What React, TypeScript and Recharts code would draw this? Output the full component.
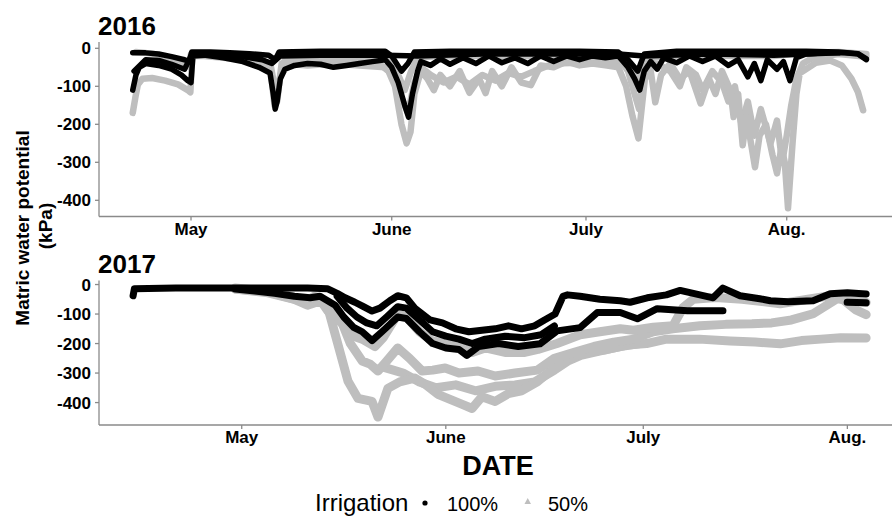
import React from 'react';
import { LineChart, Line, XAxis, YAxis } from 'recharts';

const FONT = '"Liberation Sans", Arial, Helvetica, sans-serif';
const BLACK = '#000000';
const GREY = '#bebebe';
const AXIS = '#8a8a8a';

// x = days relative to May 1, y = matric water potential (kPa)
const monthTicks = [0, 31, 61, 92];
const monthLabels = ['May', 'June', 'July', 'Aug.'];
const yTicks = [0, -100, -200, -300, -400];

// ---------- 2016 ----------
const g16a: [number, number][] = [[-8.5,-10],[-6,-14],[-4,-22],[-2,-35],[-0.4,-48],[0,-15],[3,-14],[6,-18],[9,-24],[11,-32],[12.3,-45],[12.9,-100],[13.3,-140],[13.8,-70],[14.5,-30],[17,-22],[21,-26],[25,-28],[29,-22],[30.8,-35],[32,-70],[33,-110],[34,-60],[35,-25],[38,-20],[42,-22],[46,-18],[50,-22],[55,-18],[60,-20],[66,-18],[67.5,-40],[69,-80],[70,-30],[73,-20],[78,-18],[84,-20],[90,-20],[95,-12],[100,-10],[104.3,-15]];
const g16b: [number, number][] = [[-9,-170],[-8.6,-130],[-8.2,-95],[-7.5,-80],[-6,-78],[-4,-85],[-2,-95],[-0.5,-110],[-0.1,-116],[0.2,-20],[2,-20],[5,-25],[8,-30],[11,-40],[12.3,-60],[12.9,-150],[13.4,-120],[14,-40],[16,-32],[20,-30],[24,-38],[27,-35],[29,-40],[30.5,-60],[31.5,-100],[32.5,-200],[33.3,-250],[33.9,-220],[34.5,-120],[35.5,-60],[36.5,-80],[37.5,-110],[38.5,-70],[40,-100],[41.5,-60],[43,-117],[44.5,-80],[45.5,-118],[46.5,-60],[48,-100],[49.5,-50],[51,-90],[52.5,-97],[54,-45],[56,-50],[58,-35],[60,-45],[62,-40],[64,-45],[66,-50],[67.2,-100],[68.2,-180],[69.1,-237],[70.1,-80],[71,-60],[71.7,-142],[72.6,-70],[74,-40],[75.5,-80],[77,-60],[78.7,-145],[80,-80],[81,-120],[82,-60],[83.3,-110],[83.8,-181],[84.5,-120],[85.2,-255],[85.8,-180],[87.1,-313],[87.8,-230],[88.8,-200],[89.8,-280],[90.5,-329],[91.2,-260],[91.7,-300],[92.2,-421],[92.9,-250],[93.5,-120],[94,-66],[96.5,-38],[98.7,-32],[100.5,-45],[102,-80],[103,-115],[103.8,-163]];
const g16c: [number, number][] = [[66,-25],[67.5,-60],[68.5,-120],[69.2,-160],[70,-60],[72,-40],[74,-60],[75.5,-100],[76.5,-50],[78,-70],[79,-110],[80.5,-60],[82,-90],[83,-140],[84,-100],[85,-200],[86,-140],[87,-230],[88,-160],[89.5,-250],[90.5,-190],[91.3,-300],[92,-230],[92.7,-150],[93.5,-80],[94.5,-40],[96,-25],[100,-15],[104.3,-22]];
const g16d: [number, number][] = [[14.5,-40],[18,-45],[22,-40],[26,-45],[30,-50],[31.5,-80],[32.5,-130],[33.5,-170],[34.5,-90],[35.5,-50],[37,-70],[39,-90],[41,-75],[43,-95],[45,-70],[47,-85],[49,-65],[51,-75],[53,-60],[56,-40],[60,-38],[64,-35],[66.5,-40]];
const b16a: [number, number][] = [[-9,-12],[-7,-12],[-5,-15],[-3,-22],[-1,-30],[-0.3,-35],[0.1,-10],[3,-10],[6,-12],[9,-14],[12,-18],[13,-30],[13.6,-10],[20,-8],[30,-8],[31,-20],[32.5,-60],[33.5,-40],[34.5,-10],[40,-8],[50,-8],[60,-8],[66,-10],[67.5,-30],[69,-60],[70,-15],[75,-8],[85,-8],[95,-8],[100,-10],[103,-14],[104.3,-28]];
const b16b: [number, number][] = [[-9,-110],[-8.5,-70],[-8,-50],[-7,-40],[-5,-45],[-3,-55],[-1.5,-70],[-0.5,-85],[0,-90],[0.3,-20],[2,-18],[5,-25],[8,-35],[10.5,-50],[12.2,-65],[12.7,-120],[13,-160],[13.3,-140],[13.8,-80],[14.5,-55],[16,-45],[18,-40],[20,-42],[22,-50],[24,-45],[26,-40],[28,-35],[30,-30],[31,-50],[32,-90],[33,-150],[33.6,-181],[34.2,-120],[35,-60],[35.5,-35],[37,-45],[38.5,-28],[40,-42],[42,-25],[44,-40],[46,-20],[48,-38],[50,-25],[52,-40],[54,-20],[56,-35],[58,-20],[60,-30],[62,-20],[64,-25],[66,-20],[67.5,-50],[68.5,-80],[69.3,-110],[70,-60],[71,-35],[72,-55],[73,-25],[75,-38],[77,-20],[79,-35],[81,-20],[83,-45],[84.5,-30],[86,-75],[87,-40],[88,-85],[89,-30],[90.5,-55],[91.5,-35],[92.5,-85],[93.5,-25],[95,-15],[98,-12],[101,-12],[103,-15],[104.3,-30]];
const b16c: [number, number][] = [[-8.8,-60],[-7,-30],[-5,-32],[-3,-42],[-1,-55],[0.2,-14],[4,-16],[8,-22],[11,-30],[12.5,-40],[13.8,-20],[20,-18],[30,-18],[35,-20],[45,-15],[55,-15],[66,-15],[70,-20],[80,-15],[90,-18],[100,-12]];

// ---------- 2017 ----------
const b17a: [number, number][] = [[-16.5,-38],[-16.3,-14],[-10,-12],[-1,-12],[5,-12],[10,-12],[13,-14],[14.5,-30],[15.7,-45],[17.2,-60],[18.5,-75],[19.8,-90],[21,-80],[22.5,-55],[23.7,-38],[25,-45],[26.3,-80],[28.6,-120],[30.5,-130],[32.5,-150],[34.5,-160],[36.5,-155],[38.5,-150],[40.5,-140],[42.5,-150],[44.5,-140],[46,-120],[47.6,-100],[48.8,-40],[49.5,-35],[51.4,-40],[54.4,-50],[57.5,-55],[59,-60],[61.6,-45],[64.5,-35],[66.6,-20],[69.6,-35],[71.6,-45],[73.1,-12],[75.7,-38],[78.7,-48],[80.3,-55],[83,-58],[86.8,-55],[89.4,-31],[92,-28],[94.85,-32]];
const b17b: [number, number][] = [[-1,-15],[2,-22],[5,-30],[8,-40],[10.4,-45],[11.9,-40],[14.2,-70],[15.5,-110],[17,-145],[18.3,-160],[19.8,-190],[21.3,-160],[23.7,-110],[25,-115],[27,-160],[29,-200],[31,-215],[33,-220],[34.2,-240],[36,-210],[39,-200],[42,-210],[45.3,-201],[47.9,-157],[51.4,-146],[54,-95],[57.5,-95],[60.1,-116],[63.1,-82],[67.7,-89],[73.1,-89]];
const b17c: [number, number][] = [[91.97,-60],[94.85,-62]];
const b17d: [number, number][] = [[14.5,-40],[16,-80],[17.5,-110],[19,-130],[20.5,-140],[22,-110],[23.7,-75],[25,-80],[27,-120],[29,-160],[31,-175],[33,-185],[35,-200],[37,-185],[40,-175],[43,-180],[45.5,-170],[47.5,-140]];
const g17a: [number, number][] = [[-1,-12],[3,-20],[6,-30],[8.1,-45],[10,-55],[11,-40],[12,-45],[13.1,-70],[14.2,-100],[15.5,-140],[17,-175],[18.3,-185],[20.25,-210],[21.5,-180],[23.7,-100],[25,-110],[27,-160],[28.9,-190],[31,-200],[33,-210],[35,-230],[37,-215],[40,-230],[43,-230],[45,-220],[47.9,-200],[51.4,-170],[54.4,-160],[57.5,-150],[59.5,-155],[62.5,-145],[65.5,-140],[67.05,-78],[68.6,-50],[72,-44],[76,-50],[80,-60],[81.8,-65],[86,-50],[89.4,-38],[91,-45],[93.2,-85],[94.85,-102]];
const g17b: [number, number][] = [[-1,-15],[4,-25],[8,-50],[10,-70],[12,-55],[13.1,-90],[14.5,-120],[15.24,-130],[16.5,-200],[18.3,-259],[19.5,-270],[20.7,-293],[22,-260],[23.7,-215],[25.5,-250],[27.4,-293],[29,-290],[30.9,-283],[33,-300],[35.9,-293],[38.5,-310],[41.5,-300],[44.9,-290],[47.5,-250],[50.5,-230],[53.5,-210],[56.5,-195],[59.5,-185],[62.5,-160],[65.5,-150],[69.6,-140],[73.5,-135],[77.5,-133],[80.5,-130],[83.5,-120],[86.8,-99],[90.45,-48],[94.85,-61]];
const g17c: [number, number][] = [[-1,-15],[4,-28],[8,-50],[10,-60],[12,-50],[13.1,-80],[14.17,-167],[16.15,-328],[17.67,-386],[19.79,-396],[20.7,-449],[22.2,-352],[24,-330],[26.3,-317],[28,-340],[29.8,-372],[33.5,-406],[35,-420],[36.5,-380],[38.5,-396],[40.5,-370],[42.5,-360],[44.9,-330],[46.5,-300],[49.5,-250],[52.5,-230],[55.5,-220],[58.5,-205],[61.5,-200],[64.5,-185],[69.5,-185],[74.2,-191],[78,-195],[81.8,-201],[85,-190],[88,-185],[91,-180],[94.85,-181]];
const g17d: [number, number][] = [[21.5,-280],[24.5,-300],[27,-330],[29.5,-350],[32.5,-340],[35.5,-360],[38.5,-345],[41.5,-340],[44.5,-330],[47.5,-290],[49.5,-260],[51.5,-240],[54.5,-225],[57.5,-210],[60.5,-200]];

const pts = (s: [number, number][]) => s.map(([d, v]) => ({ d, v }));

const tickStyle = { fill: '#000', fontSize: 17, fontWeight: 'bold', fontFamily: FONT } as any;

function Panel(props: {
  grey: [number, number][][];
  black: [number, number][][];
  xDomain: [number, number];
  yDomain: [number, number];
  height: number;
  top: number;
  gw: number;
  bw: number;
}) {
  const { grey, black, xDomain, yDomain, height, top, gw, bw } = props;
  return (
    <LineChart width={892} height={height} margin={{ top, right: 0, bottom: 0, left: 39 }}>
      <XAxis
        type="number"
        dataKey="d"
        domain={xDomain}
        allowDataOverflow
        ticks={monthTicks}
        interval={0}
        tickFormatter={(v: number) => monthLabels[monthTicks.indexOf(v)] ?? ''}
        tick={tickStyle}
        tickSize={4}
        tickMargin={2}
        height={30}
        axisLine={{ stroke: AXIS, strokeWidth: 1.3 }}
        tickLine={{ stroke: AXIS, strokeWidth: 1.3 }}
      />
      <YAxis
        type="number"
        dataKey="v"
        domain={yDomain}
        allowDataOverflow
        ticks={yTicks}
        interval={0}
        width={60}
        tick={tickStyle}
        tickSize={4}
        tickMargin={4}
        axisLine={{ stroke: AXIS, strokeWidth: 1.3 }}
        tickLine={{ stroke: AXIS, strokeWidth: 1.3 }}
      />
      {grey.map((s, i) => (
        <Line key={'g' + i} data={pts(s)} dataKey="v" type="linear" stroke={GREY} strokeWidth={gw}
          strokeLinejoin="round" strokeLinecap="round" dot={false} activeDot={false} isAnimationActive={false} />
      ))}
      {black.map((s, i) => (
        <Line key={'b' + i} data={pts(s)} dataKey="v" type="linear" stroke={BLACK} strokeWidth={bw}
          strokeLinejoin="round" strokeLinecap="round" dot={false} activeDot={false} isAnimationActive={false} />
      ))}
    </LineChart>
  );
}

export default function App() {
  return (
    <div style={{ position: 'absolute', left: 0, top: 0, width: 892, height: 517, background: '#fff', overflow: 'hidden' }}>
      <div style={{ position: 'absolute', left: 0, top: 0 }}>
        <Panel grey={[g16a, g16d, g16c, g16b]} black={[b16a, b16c, b16b]} xDomain={[-14.21, 108.26]} yDomain={[-442.6, 16.6]}
          height={246.5} top={42} gw={6.5} bw={5.5} />
      </div>
      <div style={{ position: 'absolute', left: 0, top: 240 }}>
        <Panel grey={[g17d, g17c, g17b, g17a]} black={[b17b, b17d, b17a, b17c]} xDomain={[-21.68, 98.78]} yDomain={[-476, 14]}
          height={215} top={40.4} gw={9} bw={7} />
      </div>
      <svg width={892} height={517} style={{ position: 'absolute', left: 0, top: 0, pointerEvents: 'none' }}>
        <g fontFamily={FONT} fill="#000">
          <text x={98} y={35} fontSize={26} fontWeight="bold">2016</text>
          <text x={98} y={273} fontSize={26} fontWeight="bold">2017</text>
          <text transform="translate(22,228) rotate(-90)" textAnchor="middle" dy="0.35em" fontSize={19} fontWeight="bold">Matric water potential</text>
          <text transform="translate(45,226) rotate(-90)" textAnchor="middle" dy="0.35em" fontSize={19} fontWeight="bold">(kPa)</text>
          <text x={498} y={475} textAnchor="middle" fontSize={27} fontWeight="bold">DATE</text>
          <text x={315} y={511} fontSize={24}>Irrigation</text>
          <circle cx={425} cy={503} r={2.6} fill={BLACK} />
          <text x={447} y={511} fontSize={20}>100%</text>
          <polygon points="524.5,504 531,504 527.7,498" fill={GREY} />
          <text x={548} y={511} fontSize={20}>50%</text>
        </g>
      </svg>
    </div>
  );
}
